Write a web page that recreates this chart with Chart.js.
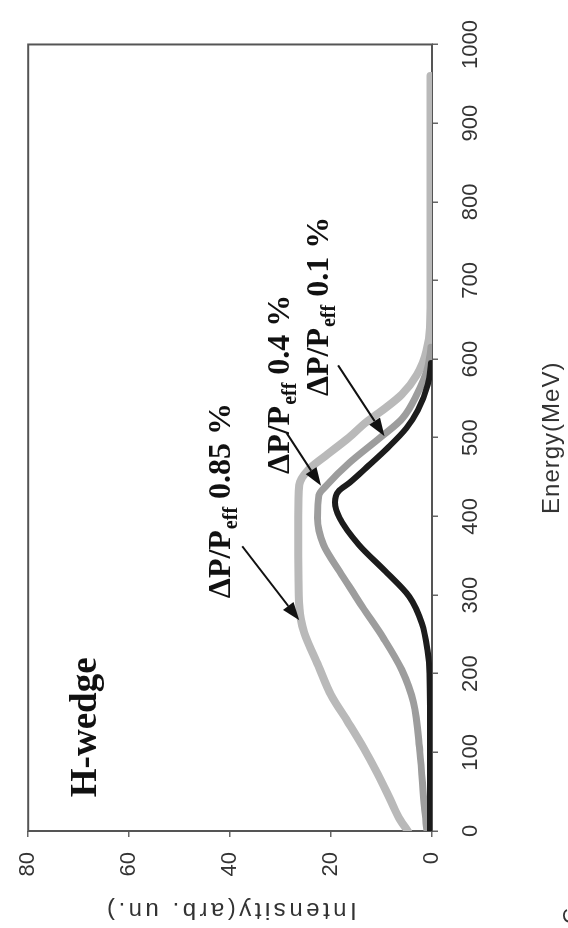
<!DOCTYPE html>
<html>
<head>
<meta charset="utf-8">
<title>H-wedge energy spectra</title>
<script src="https://cdn.jsdelivr.net/npm/chart.js@4.4.1/dist/chart.umd.min.js"></script>
<style>
  html, body { margin: 0; padding: 0; background: #ffffff; overflow: hidden; }
  #page { position: absolute; left: 0; top: 0; width: 568px; height: 928px; overflow: hidden; background: #fff; }
  /* the plot is laid out landscape and turned a quarter turn counter-clockwise */
  #stage { position: absolute; left: 0; top: 0; width: 928px; height: 568px;
           transform-origin: 0 0; transform: translate(0px, 928px) rotate(-90deg); }
  canvas { display: block; }
</style>
</head>
<body>
<div id="page">
  <div id="stage"><canvas id="spectrum" width="928" height="568"></canvas></div>
</div>
<script>
// Axis ticks
const energyTicks = [0, 100, 200, 300, 400, 500, 600, 700, 800, 900, 1000];
const intensityTicks = [0, 20, 40, 60, 80];

// ΔP/Peff = 0.85 %
const energy085 = [0, 14, 39, 73, 105, 139, 173, 210, 252, 270, 300, 350, 400, 440, 460, 475, 500, 520, 535, 555, 580, 610, 640, 700, 800, 900, 960];
const intensity085 = [4.8, 6.3, 8.2, 10.8, 13.5, 16.7, 20.0, 22.5, 25.3, 26.0, 26.4, 26.5, 26.5, 26.3, 24.4, 21.5, 16.5, 13.0, 9.8, 6.0, 3.0, 1.1, 0.4, 0.3, 0.3, 0.3, 0.3];

// ΔP/Peff = 0.4 %
const energy04 = [0, 30, 100, 164, 205, 245, 285, 300, 330, 364, 398, 427, 440, 468, 500, 525, 555, 590, 615];
const intensity04 = [1.0, 1.5, 2.4, 3.7, 6.0, 9.6, 13.8, 15.3, 18.3, 21.5, 22.7, 22.4, 20.8, 16.4, 10.3, 5.8, 3.0, 0.8, 0.2];

// ΔP/Peff = 0.1 %
const energy01 = [0, 100, 200, 230, 264, 298, 330, 364, 398, 418, 432, 443, 462, 487, 512, 535, 568, 595];
const intensity01 = [0.4, 0.4, 0.5, 0.9, 2.0, 4.5, 9.2, 14.5, 18.3, 19.2, 18.5, 16.3, 13.0, 8.8, 5.1, 2.8, 0.8, 0.2];

// Curve labels, anchored in data units (energy, intensity at the text baseline)
const curveLabels = [
  { main: 'ΔP/P', sub: 'eff', tail: ' 0.85 %', at: [296, 40.0] },
  { main: 'ΔP/P', sub: 'eff', tail: ' 0.4 %',  at: [454, 28.4] },
  { main: 'ΔP/P', sub: 'eff', tail: ' 0.1 %',  at: [553, 20.6] }
];
const curveArrows = [
  { from: [362, 37.6], to: [268, 26.3] },
  { from: [506, 28.8], to: [439, 22.0] },
  { from: [592, 18.6], to: [502, 9.4] }
];
const panelTitle = { text: 'H-wedge', at: [43, 66.5] };

function pairs(xs, ys) { return xs.map((x, k) => ({ x: x, y: ys[k] })); }

const SANS = '"Liberation Sans", Arial, Helvetica, sans-serif';
const SERIF = '"Liberation Serif", "Times New Roman", Times, serif';

// tall, narrow digits for the tick labels when a condensed face is present
function hasFont(name) {
  const c = document.createElement('canvas').getContext('2d');
  c.font = '40px monospace';
  const ref = c.measureText('1000 mwi').width;
  c.font = '40px "' + name + '", monospace';
  return Math.abs(c.measureText('1000 mwi').width - ref) > 0.5;
}
const tickFont = hasFont('Liberation Sans Narrow')
  ? { family: '"Liberation Sans Narrow", "Arial Narrow", sans-serif', size: 26 }
  : { family: SANS, size: 22 };
const tickPadX = tickFont.size === 26 ? 17 : 20;

// plot frame on all four sides
const framePlugin = {
  id: 'frame',
  beforeDatasetsDraw(chart) {
    const a = chart.chartArea, ctx = chart.ctx;
    ctx.save();
    ctx.strokeStyle = '#555';
    ctx.lineWidth = 2;
    ctx.strokeRect(a.left, a.top, a.right - a.left, a.bottom - a.top);
    ctx.restore();
  }
};

// wider letter spacing for the axis titles
const titleSpacing = { x: '1px', y: '3.5px' };
const spacedTitles = {
  id: 'spacedTitles',
  beforeDraw(chart) {
    Object.keys(titleSpacing).forEach(id => {
      const s = chart.scales[id];
      if (!s || s._spacedTitle) return;
      const base = s.drawTitle;
      s.drawTitle = function () {
        const ctx = this.ctx;
        const prev = ctx.letterSpacing;
        ctx.letterSpacing = titleSpacing[id];
        base.call(this);
        ctx.letterSpacing = prev || '0px';
      };
      s._spacedTitle = true;
    });
  }
};

// labels, arrows and panel title
const notesPlugin = {
  id: 'notes',
  afterDatasetsDraw(chart) {
    const ctx = chart.ctx, xs = chart.scales.x, ys = chart.scales.y;
    const px = p => [xs.getPixelForValue(p[0]), ys.getPixelForValue(p[1])];
    ctx.save();
    ctx.fillStyle = '#111';
    ctx.strokeStyle = '#111';
    ctx.textBaseline = 'alphabetic';
    ctx.textAlign = 'left';

    curveLabels.forEach(l => {
      let [x, y] = px(l.at);
      ctx.font = 'bold 32px ' + SERIF;
      ctx.fillText(l.main, x, y);
      x += ctx.measureText(l.main).width + 1;
      ctx.font = 'bold 20px ' + SERIF;
      ctx.fillText(l.sub, x, y + 7);
      x += ctx.measureText(l.sub).width;
      ctx.font = 'bold 32px ' + SERIF;
      ctx.fillText(l.tail, x, y);
    });

    curveArrows.forEach(a => {
      const [x0, y0] = px(a.from), [x1, y1] = px(a.to);
      const ang = Math.atan2(y1 - y0, x1 - x0);
      const len = 18, half = 6.5;
      const bx = x1 - len * Math.cos(ang), by = y1 - len * Math.sin(ang);
      ctx.lineWidth = 2;
      ctx.beginPath();
      ctx.moveTo(x0, y0);
      ctx.lineTo(bx, by);
      ctx.stroke();
      ctx.beginPath();
      ctx.moveTo(x1, y1);
      ctx.lineTo(bx + half * Math.sin(ang), by - half * Math.cos(ang));
      ctx.lineTo(bx - half * Math.sin(ang), by + half * Math.cos(ang));
      ctx.closePath();
      ctx.fill();
    });

    const [hx, hy] = px(panelTitle.at);
    ctx.font = 'bold 37px ' + SERIF;
    ctx.fillText(panelTitle.text, hx, hy);

    // caption letter at the lower margin
    ctx.font = '22px ' + SANS;
    ctx.fillStyle = '#333';
    ctx.textBaseline = 'top';
    ctx.fillText('C', 4, chart.height - 7);
    ctx.restore();
  }
};

new Chart(document.getElementById('spectrum'), {
  type: 'line',
  data: {
    datasets: [
      { label: 'ΔP/Peff 0.1 %', data: pairs(energy01, intensity01), borderColor: '#1c1c1c', borderWidth: 6, order: 1 },
      { label: 'ΔP/Peff 0.4 %', data: pairs(energy04, intensity04), borderColor: '#9d9d9d', borderWidth: 7, order: 2 },
      { label: 'ΔP/Peff 0.85 %', data: pairs(energy085, intensity085), borderColor: '#b9b9b9', borderWidth: 8, order: 3 }
    ]
  },
  options: {
    responsive: false,
    devicePixelRatio: 1,
    animation: false,
    elements: {
      point: { radius: 0 },
      line: { tension: 0.35, cubicInterpolationMode: 'monotone', borderCapStyle: 'round', borderJoinStyle: 'round', fill: false }
    },
    layout: { padding: { top: 24, right: 32, left: 0, bottom: 0 } },
    plugins: { legend: { display: false }, tooltip: { enabled: false } },
    scales: {
      x: {
        type: 'linear', position: 'bottom', min: 0, max: 1000,
        afterBuildTicks: s => { s.ticks = energyTicks.map(v => ({ value: v })); },
        afterFit: s => { s.height = 136; },
        grid: { drawOnChartArea: false, drawTicks: true, tickLength: 6, color: '#666', lineWidth: 1.5 },
        border: { display: false },
        ticks: { padding: tickPadX, color: '#333', font: tickFont, maxRotation: 0, autoSkip: false,
                 callback: v => String(v) },
        title: { display: true, text: 'Energy(MeV)', color: '#333', font: { family: SANS, size: 24 }, padding: { top: 0, bottom: 1 } }
      },
      y: {
        type: 'linear', position: 'left', min: 0, max: 80,
        afterBuildTicks: s => { s.ticks = intensityTicks.map(v => ({ value: v })); },
        afterFit: s => { s.width = 97; },
        grid: { drawOnChartArea: false, drawTicks: true, tickLength: 6, color: '#666', lineWidth: 1.5 },
        border: { display: false },
        ticks: { padding: 15, color: '#333', font: tickFont, autoSkip: false,
                 callback: v => String(v) },
        title: { display: true, text: 'Intensity(arb. un.)', color: '#333', font: { family: SANS, size: 24 }, padding: { top: 4, bottom: 0 } }
      }
    }
  },
  plugins: [framePlugin, spacedTitles, notesPlugin]
});
</script>
</body>
</html>
